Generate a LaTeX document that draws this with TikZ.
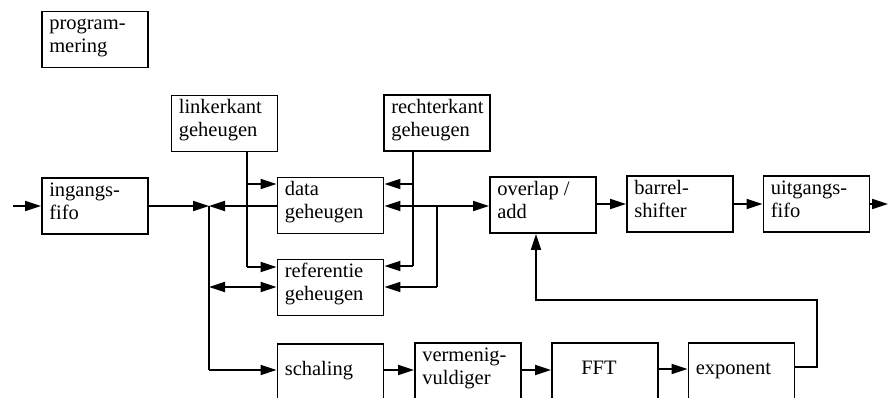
\documentclass[tikz,border=0pt]{standalone}
\usepackage{fontspec}
\setmainfont{Liberation Serif}
\usetikzlibrary{arrows.meta}
\newcommand\topstrut{\rule{0pt}{15pt}}
\begin{document}
\begin{tikzpicture}[x=1pt,y=-1pt,
  blk/.style={draw, line width=1.8pt, minimum width=106pt, minimum height=56pt, inner sep=0pt},
  lowblk/.style={blk, minimum height=64pt},
  txt/.style={anchor=north west, inner sep=0pt, xshift=8pt, yshift=-4pt,
    align=left, font=\fontsize{20.5}{23}\selectfont},
  lowtxt/.style={txt, yshift=-13pt},
  con/.style={line width=1.8pt},
  arr/.style={con, -{Triangle[length=16pt,width=10pt]}},
  darr/.style={con, {Triangle[length=16pt,width=10pt]}-{Triangle[length=16pt,width=10pt]}}]
\useasboundingbox (0,0) rectangle (888,398);
\node[blk, label={[txt]north west:{\topstrut program-\\mering}}] (prog) at (95,39.5) {};
\node[blk, label={[txt]north west:{\topstrut linkerkant\\geheugen}}] (link) at (224.5,123.5) {};
\node[blk, label={[txt]north west:{\topstrut rechterkant\\geheugen}}] (recht) at (437,123) {};
\node[blk, label={[txt]north west:{\topstrut ingangs-\\fifo}}] (in) at (95,206) {};
\node[blk, label={[txt]north west:{\topstrut data\\geheugen}}] (data) at (330.5,205.5) {};
\node[blk, label={[txt]north west:{\topstrut referentie\\geheugen}}] (ref) at (330.5,287.5) {};
\node[blk, label={[txt]north west:{\topstrut overlap /\\add}}] (ovl) at (543,205) {};
\node[blk, label={[txt]north west:{\topstrut barrel-\\shifter}}] (bar) at (680,204) {};
\node[blk, label={[txt]north west:{\topstrut uitgangs-\\fifo}}] (out) at (816.5,204) {};
\node[lowblk, anchor=north, label={[lowtxt]north west:{\topstrut schaling}}] (sch) at (330.5,343) {};
\node[lowblk, anchor=north, label={[txt]north west:{\topstrut vermenig-\\vuldiger}}] (ver) at (468,342) {};
\node[lowblk, anchor=north, label={[lowtxt, anchor=north, xshift=-14pt]north:{\topstrut FFT}}] (fft) at (605,342) {};
\node[lowblk, anchor=north, label={[lowtxt]north west:{\topstrut exponent}}] (exp) at (741.5,342) {};

\coordinate (src) at (13,206);
\coordinate (snk) at (888,204);
\coordinate (j) at (209,206);
\coordinate (jl) at (247,184);
\coordinate (jr) at (413,184);
\coordinate (jd) at (437,206);

% input / output
\draw[arr] (src) -- (in.west |- src);
\draw[arr] (out.east |- snk) -- (snk);
% left junction
\draw[arr] (in.east |- j) -- (j);
\draw[arr] (data.west |- j) -- (j);
\draw[con] (j) -- (209,370);
\draw[arr] (209,370) -- (sch.west |- 0,370);
\draw[darr] (209,287) -- (ref.west |- 0,287);
% linkerkant
\draw[con] (link.south -| jl) -- (247,267);
\draw[arr] (247,184) -- (data.west |- 0,184);
\draw[arr] (247,267) -- (ref.west |- 0,267);
% rechterkant
\draw[con] (recht.south -| jr) -- (413,266);
\draw[arr] (413,184) -- (data.east |- 0,184);
\draw[arr] (413,266) -- (ref.east |- 0,266);
% data <-> overlap
\draw[darr] (data.east |- jd) -- (ovl.west |- jd);
\draw[con] (jd) -- (437,287);
\draw[arr] (437,287) -- (ref.east |- 0,287);
% main chain
\draw[arr] (ovl.east |- 0,204) -- (bar.west |- 0,204);
\draw[arr] (bar.east |- 0,204) -- (out.west |- 0,204);
\draw[arr] (sch.east |- 0,370) -- (ver.west |- 0,370);
\draw[arr] (ver.east |- 0,370) -- (fft.west |- 0,370);
\draw[arr] (fft.east |- 0,369) -- (exp.west |- 0,369);
% feedback
\draw[arr] (exp.east |- 0,367) -- (817,367) -- (817,300) -- (536,300) -- (ovl.south -| 536,0);
\end{tikzpicture}
\end{document}
